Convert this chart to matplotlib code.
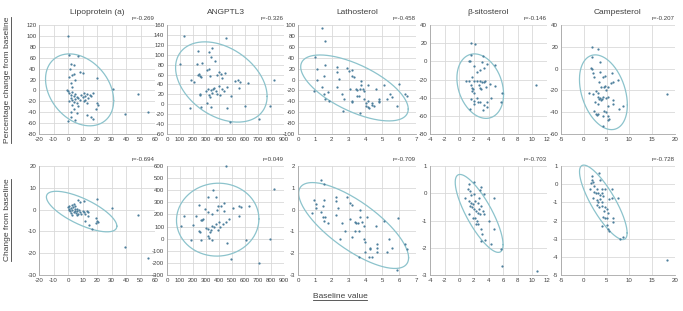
import numpy as np
import matplotlib
matplotlib.use("Agg")
import matplotlib.pyplot as plt
from matplotlib.lines import Line2D

plt.rcParams['font.family'] = ['Liberation Sans', 'DejaVu Sans']
plt.rcParams['axes.unicode_minus'] = False

# -----------------------------
# Data
# -----------------------------
titles = ["Lipoprotein (a)", "ANGPTL3", "Lathosterol", "\u03b2-sitosterol", "Campesterol"]
r_top = ["r=-0.269", "r=-0.326", "r=-0.458", "r=-0.146", "r=-0.207"]
r_bottom = ["r=-0.694", "r=0.049", "r=-0.709", "r=-0.703", "r=-0.728"]

# axis ranges / steps: (min, max, step)
x_ranges = [(-20, 60, 10), (0, 900, 100), (0, 7, 1), (-4, 12, 2), (-5, 20, 5)]
y_top_ranges = [(-80, 120, 20), (-60, 160, 20), (-100, 100, 20), (-80, 40, 20), (-60, 40, 20)]
y_bot_ranges = [(-30, 20, 10), (-300, 600, 100), (-3, 2, 1), (-3, 1, 1), (-5, 1, 1)]

# percentage change vs baseline
lpa_pct = [(0, 100), (1, 65), (7, 63), (2, 48), (4, 46), (1.5, 40), (3, 28), (4, 30), (8, 34),
           (10, 32), (0.5, 25), (2, 13), (5, 19), (2.5, 6), (20, 22), (31, 2), (48, -6), (39, -44),
           (55, -40), (-1, 0), (0, -2), (1, -5), (2, -8), (3, -3), (4, -10), (5, -6), (6, -12),
           (2, -14), (3, -18), (1, -20), (4, -22), (5, -16), (7, -14), (8, -18), (6, -24), (9, -8),
           (10, -12), (11, -4), (12, -10), (13, -6), (14, -14), (15, -8), (17, -4), (11, -20),
           (12, -18), (7, -28), (3, -26), (4, -34), (13, -23), (16, -10), (19.5, -35), (20, -23),
           (21, -27), (13, -46), (16, -49), (17, -53), (2, -40), (2, -49), (4.5, -54), (6, -41),
           (0, -57)]
angptl3_pct = [(131, 137), (450, 133), (100, 82), (235, 107), (325, 106), (345, 113), (228, 82),
               (268, 83), (340, 95), (370, 88), (310, 70), (320, 72), (185, 48), (205, 45),
               (245, 62), (252, 58), (262, 56), (240, 60), (330, 57), (385, 60), (400, 66),
               (412, 62), (420, 54), (445, 64), (520, 46), (545, 48), (560, 44), (555, 33),
               (620, 42), (300, 27), (318, 30), (335, 28), (350, 30), (365, 33), (380, 26),
               (400, 36), (420, 31), (440, 27), (462, 35), (323, 18), (328, 14), (345, 22),
               (388, 20), (410, 18), (250, 21), (255, 18), (490, 17), (310, 3), (178, -8),
               (258, -5), (335, -5), (458, -8), (598, -3), (485, -36), (705, -30), (820, 48),
               (790, -3)]
latho_pct = [(1.44, 95), (1.63, 70), (1.02, 41), (1.14, 19), (1.61, 26), (2.91, 22), (2.32, 23),
             (2.32, 14), (3.19, 18), (3.0, 16), (1.14, -0.6), (2.44, 0.6), (1.54, 6.5), (0.94, -21),
             (1.44, -14), (1.54, -27), (1.77, -23), (1.63, -36), (1.81, -39), (2.32, -14),
             (2.6, -27), (2.72, -35), (3.19, -39), (3.19, 6.5), (3.3, 4), (3.11, -17), (3.44, -18),
             (3.5, -20), (3.65, -17), (3.5, -30), (3.74, -3.5), (3.74, -11), (3.84, -17),
             (3.94, -21), (3.64, -30), (3.94, -36), (4.13, -39), (4.05, -44), (4.17, -51),
             (4.04, -48), (4.37, -43), (4.37, -47), (4.23, -53), (4.53, -49), (4.17, -9.5),
             (4.63, -17), (4.78, -35), (4.78, -39), (4.78, -42), (5.12, -11), (5.28, -36),
             (5.47, -27), (5.57, -33), (5.87, -49), (6.0, -8), (6.36, -26), (6.46, -30),
             (2.66, -57), (3.7, -62), (3.2, -42)]
sito_pct = [(1.62, 20.6), (2.22, 18.8), (1.62, 7), (3.29, 6.4), (1.3, 0), (1.44, 0), (3.15, -0.7),
            (3.75, -2.5), (4.86, -4.3), (2.08, -5.3), (3.38, -7.8), (2.45, -11.3), (2.82, -9.6),
            (1.76, -17.7), (0.97, -21.3), (1.3, -22), (1.99, -21.3), (2.4, -21.5), (2.82, -22),
            (3.1, -23), (3.38, -23), (3.52, -22), (1.67, -26.6), (1.76, -29), (1.9, -30.5),
            (1.76, -32.6), (1.99, -34.4), (2.68, -26.6), (2.82, -29), (2.92, -30.9), (3.61, -28),
            (4.2, -25.5), (4.9, -27.3), (1.62, -41.5), (1.99, -43.3), (2.08, -46.8), (2.36, -40.8),
            (2.55, -44.3), (2.82, -45), (3.38, -47.9), (3.75, -45), (3.75, -50.7), (4.4, -40.8),
            (5.7, -45), (5.9, -35), (1.53, -52), (3.29, -53.9), (10.5, -26.6)]
campe_pct = [(1.9, 20), (3.2, 18.2), (1.9, 10.7), (3.6, 6.3), (1.6, 0.3), (1.9, 0), (2.1, -4.2),
             (2.3, -7.8), (3.6, -2.7), (4.3, -7.8), (4.7, -7.2), (6.1, -4.2), (3.4, -12.2),
             (4.7, -16), (4.5, -17.3), (3.7, -16.7), (7.4, -10.7), (6.4, -12.2), (6.0, -13.1),
             (1.2, -22.7), (2.1, -23.3), (2.7, -20.3), (3.1, -22.1), (3.2, -25.7), (3.6, -27.2),
             (3.7, -28.7), (3.4, -28.1), (3.9, -28), (4.2, -25.7), (5.2, -25.7), (4.8, -27),
             (4.9, -19.7), (5.2, -17.3), (2.5, -31), (3.2, -32.2), (5.2, -34.6), (6.4, -28.7),
             (6.4, -32.2), (7.8, -37), (8.5, -34), (2.3, -39.1), (2.7, -42.1), (3.2, -42),
             (4.5, -39.1), (4.9, -40), (5.4, -43.6), (5.2, -47.2), (5.6, -46), (4.2, -43.6),
             (2.8, -43), (4.2, -52.5), (18.3, -23.3)]

# absolute change vs baseline
lpa_abs = [(20, 4.8), (6.6, 4.6), (8.5, 3.5), (10.8, 4), (30, 0.8), (48, -2.6), (39, -17),
           (55, -22), (0, 1), (0.5, 0.5), (1, 1.5), (1.5, -0.5), (2, 0.8), (2.5, 2), (3, 0),
           (3.5, 1.2), (4, -1), (4.5, 0.3), (5, 1.8), (5.5, -1.5), (6, 0.5), (6.5, -0.8), (7, -2),
           (7.5, -0.3), (8, -1.2), (2, -1.5), (3, -2.3), (1, -0.2), (4, 2.4), (5, -0.5), (6, -2.5),
           (9, -1.8), (10, -0.5), (13, -0.6), (14, -1.2), (12, -1.8), (11, -1), (13.6, -2.9),
           (19, -4), (20, -5), (21, -5.6), (19, -6.3), (12, -5.3), (14.3, -7), (16.7, -9)]
angptl3_abs = [(454, 600), (351, 403), (317, 346), (375, 341), (435, 294), (245, 278), (296, 245),
               (317, 218), (343, 204), (396, 272), (417, 272), (383, 237), (435, 232), (509, 251),
               (554, 272), (567, 259), (628, 272), (554, 191), (132, 191), (224, 191), (259, 158),
               (269, 155), (278, 160), (198, 109), (106, 101), (245, 63), (253, 52), (303, 90),
               (343, 101), (338, 68), (330, 57), (375, 117), (401, 136), (409, 95), (396, 74),
               (430, 123), (452, 136), (475, 164), (364, 95), (312, 82), (317, 22), (325, 8),
               (185, -8), (259, -8), (343, -8), (462, -33), (607, -14), (496, -169), (707, -204),
               (826, 410), (795, -5)]
latho_abs = [(1.36, 1.35), (1.56, 1.17), (0.96, 0.45), (1.04, 0.27), (1.04, 0.09), (0.86, -0.14),
             (1.56, 0.45), (1.5, 0.17), (1.36, -0.1), (1.46, -0.33), (1.6, -0.33), (1.56, -0.53),
             (1.76, -0.63), (2.26, 0.57), (2.26, 0.38), (2.36, 0.08), (2.26, -0.23), (2.6, -0.63),
             (2.9, 0.57), (3.1, 0.3), (3.2, 0.2), (3.1, -0.45), (2.8, -0.96), (2.5, -1.35),
             (3.2, -1.26), (3.36, -0.56), (3.45, -0.6), (3.56, -0.63), (3.7, -0.33), (3.7, -0.03),
             (3.8, -0.56), (3.4, -0.96), (3.6, -0.96), (3.9, -0.75), (4.1, -0.33), (3.9, -1.35),
             (4.0, -1.5), (3.6, -2.16), (4.0, -1.95), (4.3, -1.76), (4.3, -1.83), (4.2, -2.16),
             (4.4, -2.16), (4.6, -0.75), (4.7, -1.56), (4.7, -1.76), (4.7, -1.95), (5.1, -0.53),
             (5.4, -1.35), (5.56, -1.76), (5.26, -1.95), (5.96, -0.4), (6.36, -1.56), (6.46, -1.83),
             (5.86, -2.76)]
sito_abs = [(2.07, 0.43), (1.38, 0.35), (3.0, 0.23), (1.15, 0.15), (1.47, 0.09), (0.83, -0.16),
            (1.61, -0.06), (2.0, -0.04), (2.9, 0.11), (3.36, -0.04), (2.76, -0.16), (1.38, -0.28),
            (1.61, -0.34), (1.84, -0.4), (1.52, -0.46), (1.7, -0.5), (2.0, -0.59), (2.17, -0.28),
            (2.53, -0.34), (3.0, -0.46), (2.76, -0.59), (2.3, -0.65), (2.63, -0.71), (2.9, -0.77),
            (3.2, -0.65), (3.36, -0.77), (1.38, -0.77), (1.84, -0.9), (2.17, -0.9), (2.44, -1.02),
            (2.63, -1.12), (2.3, -1.12), (4.0, -1.02), (3.0, -1.32), (4.75, -1.32), (4.75, -0.18),
            (3.1, -1.5), (3.0, -1.75), (3.55, -1.72), (4.3, -1.85), (5.76, -2.06), (5.85, -2.67),
            (10.6, -2.87)]
campe_abs = [(3.3, 0.62), (3.55, 0.25), (1.9, 0.44), (1.74, 0.25), (2.1, 0.13), (1.6, 0.04),
             (1.4, -0.24), (2.3, -0.11), (2.8, -0.24), (3.9, -0.24), (4.6, -0.24), (2.2, -0.42),
             (2.7, -0.51), (3.2, -0.47), (3.55, -0.6), (4.1, -0.47), (4.3, -0.65), (6.1, -0.24),
             (1.96, -0.78), (2.8, -0.87), (3.2, -0.96), (3.55, -0.84), (3.9, -0.96), (5.6, -0.84),
             (6.1, -0.78), (7.5, -0.78), (2.8, -1.15), (3.4, -1.24), (3.9, -1.2), (4.6, -1.24),
             (5.0, -1.38), (4.4, -1.5), (5.4, -1.6), (4.3, -1.78), (4.6, -1.87), (5.1, -1.87),
             (6.3, -1.87), (6.3, -2.1), (4.1, -2.29), (5.0, -2.24), (5.4, -2.47), (5.6, -2.6),
             (8.0, -3.0), (8.7, -2.9), (18.2, -4.18)]

pct_data = [lpa_pct, angptl3_pct, latho_pct, sito_pct, campe_pct]
abs_data = [lpa_abs, angptl3_abs, latho_abs, sito_abs, campe_abs]

# ellipses: (center x, center y, half-width x, half-height y, tilt)
ell_top = [(8, 1, 23.5, 66, -0.3), (418, 45, 352, 81, -0.36), (3.35, -15.5, 3.19, 60.5, -0.64),
           (2.87, -27.3, 3.19, 35.5, -0.25), (4.3, -21.7, 5.25, 34.3, -0.34)]
ell_bot = [(9.4, -0.9, 24.3, 9.3, -0.72), (390, 157, 317, 301, 0.02), (3.3, -0.73, 3.26, 1.97, -0.75),
           (2.72, -0.74, 3.27, 1.43, -0.8), (4.28, -1.0, 5.22, 2.05, -0.82)]

# -----------------------------
# Layout (pixels)
# -----------------------------
W, H = 683, 311
col_left = [39, 167, 298, 430, 561]
col_right = [155, 284, 416, 547, 675]
row_top = [25, 166]
row_bottom = [134, 275]

dot_color = "#4d7f9c"
ell_color = "#8cc3cc"
grid_color = "#d9d9d9"
axis_color = "#a6a6a6"
text_color = "#404040"


def draw_panel(ax, pts, xr, yr, ell, rlabel):
    ax.set_xlim(xr[0], xr[1])
    ax.set_ylim(yr[0], yr[1])
    ax.set_xticks(np.arange(xr[0], xr[1] + xr[2] / 2, xr[2]))
    ax.set_yticks(np.arange(yr[0], yr[1] + yr[2] / 2, yr[2]))
    ax.grid(True, color=grid_color, linewidth=0.6)
    ax.set_axisbelow(True)
    for side in ["top", "right"]:
        ax.spines[side].set_visible(False)
    for side in ["left", "bottom"]:
        ax.spines[side].set_color(axis_color)
        ax.spines[side].set_linewidth(0.6)
    ax.tick_params(length=0, pad=2, labelsize=4.4, colors=text_color)
    ax.set_facecolor("white")

    t = np.linspace(0, 2 * np.pi, 300)
    cx, cy, sx, sy, r = ell
    ex = cx + sx * np.cos(t)
    ey = cy + sy * (r * np.cos(t) + np.sqrt(1 - r * r) * np.sin(t))
    ax.plot(ex, ey, color=ell_color, linewidth=0.9, clip_on=False)

    xs = [p[0] for p in pts]
    ys = [p[1] for p in pts]
    ax.scatter(xs, ys, s=2.6, color=dot_color, linewidths=0, zorder=3, clip_on=False)

    ax.text(1.0, 1.04, rlabel, transform=ax.transAxes, ha="right", va="bottom",
            fontsize=4.4, color=text_color)


fig = plt.figure(figsize=(W / 100, H / 100), dpi=100)

for row in range(2):
    for col in range(5):
        left = col_left[col] / W
        width = (col_right[col] - col_left[col]) / W
        bottom = 1 - row_bottom[row] / H
        height = (row_bottom[row] - row_top[row]) / H
        ax = fig.add_axes([left, bottom, width, height])
        if row == 0:
            draw_panel(ax, pct_data[col], x_ranges[col], y_top_ranges[col], ell_top[col], r_top[col])
            ax.set_title(titles[col], fontsize=6, color=text_color, pad=8)
        else:
            draw_panel(ax, abs_data[col], x_ranges[col], y_bot_ranges[col], ell_bot[col], r_bottom[col])

# axis labels, underlined
lab1 = fig.text(8 / W, 1 - 80 / H, "Percentage change from baseline", rotation=90,
                ha="center", va="center", fontsize=6, color=text_color)
lab2 = fig.text(8 / W, 1 - 220 / H, "Change from baseline", rotation=90,
                ha="center", va="center", fontsize=6, color=text_color)
lab3 = fig.text(340 / W, 1 - 297 / H, "Baseline value", ha="center", va="center",
                fontsize=6, color=text_color)

fig.canvas.draw()
renderer = fig.canvas.get_renderer()
for lab, vertical in [(lab1, True), (lab2, True), (lab3, False)]:
    bb = lab.get_window_extent(renderer)
    if vertical:
        x = (bb.x1 - 0.3) / W
        line = Line2D([x, x], [bb.y0 / H, bb.y1 / H], transform=fig.transFigure,
                      color=text_color, linewidth=0.6)
    else:
        y = (bb.y0 + 0.3) / H
        line = Line2D([bb.x0 / W, bb.x1 / W], [y, y], transform=fig.transFigure,
                      color=text_color, linewidth=0.6)
    fig.add_artist(line)

fig.savefig("out.png", dpi=100)
